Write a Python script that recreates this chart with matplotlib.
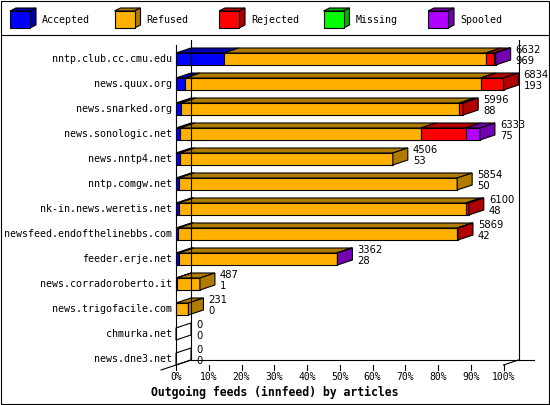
import numpy as np
import matplotlib
matplotlib.use("Agg")
import matplotlib.pyplot as plt
from matplotlib.patches import Polygon, Rectangle

# ---- data (percent of offered articles per feed)
feeds = ["nntp.club.cc.cmu.edu", "news.quux.org", "news.snarked.org",
         "news.sonologic.net", "news.nntp4.net", "nntp.comgw.net",
         "nk-in.news.weretis.net", "newsfeed.endofthelinebbs.com",
         "feeder.erje.net", "news.corradoroberto.it", "news.trigofacile.com",
         "chmurka.net", "news.dne3.net"]
offered = [6632, 6834, 5996, 6333, 4506, 5854, 6100, 5869, 3362, 487, 231, 0, 0]
accepted_n = [969, 193, 88, 75, 53, 50, 48, 42, 28, 1, 0, 0, 0]

accepted = [14.6, 2.8, 1.5, 1.2, 1.2, 0.85, 0.8, 0.7, 0.8, 0.2, 0.0, 0, 0]
refused = [80.0, 90.2, 85.0, 73.5, 65.0, 85.0, 87.7, 85.2, 48.3, 7.1, 3.8, 0, 0]
rejected = [2.6, 7.0, 1.2, 13.8, 0, 0, 0.9, 0.2, 0, 0, 0, 0, 0]
missing = [0, 0, 0, 0, 0, 0, 0, 0, 0, 0, 0, 0, 0]
spooled = [0.4, 0, 0, 4.3, 0, 0, 0, 0, 0.2, 0, 0, 0, 0]

series = ["Accepted", "Refused", "Rejected", "Missing", "Spooled"]
front_col = ["#0000ff", "#ffb000", "#ff0000", "#00ff00", "#b000ff"]
dark_col = ["#0000b0", "#b07c00", "#b00000", "#00b000", "#7400b0"]

# ---- layout (pixels of the 550x405 picture)
W, H = 550, 405
X0_PX, PX_PER_PCT = 176, 3.275
ROW0_PX, ROW_PX = 59, 25
DX = 15 / PX_PER_PCT        # depth of the 3d effect in percent units
DY = -5 / ROW_PX            # ... and in row units
HALF = 6 / ROW_PX           # half bar height
LW = 0.8

mono = "DejaVu Sans Mono"

fig = plt.figure(figsize=(W / 100, H / 100), dpi=100)
fig.patch.set_facecolor("white")

ax = fig.add_axes([0, 0, 1, 1])
ax.set_xlim(-X0_PX / PX_PER_PCT, (W - X0_PX) / PX_PER_PCT)
ax.set_ylim((H - ROW0_PX) / ROW_PX, -ROW0_PX / ROW_PX)
ax.axis("off")

n = len(feeds)
top_ax = -0.56
bot_ax = n - 1 + HALF

# back wall and floor
ax.plot([DX, DX], [top_ax + DY, bot_ax + DY], color="k", lw=LW)
ax.plot([100 + DX, 100 + DX], [top_ax + DY, bot_ax + DY], color="k", lw=LW)
ax.plot([DX, 100 + 2 * DX], [bot_ax + DY, bot_ax + DY], color="k", lw=LW)
ax.plot([-DX, DX], [bot_ax - DY, bot_ax + DY], color="k", lw=LW)
ax.plot([100, 100 + DX], [bot_ax, bot_ax + DY], color="k", lw=LW)
# front axis
ax.plot([0, 0], [top_ax, bot_ax], color="k", lw=LW)

# ticks
for t in range(0, 101, 10):
    ax.plot([t, t], [bot_ax, bot_ax + 5 / ROW_PX], color="k", lw=LW)
    ax.text(t, bot_ax + 12 / ROW_PX, f"{t}%", ha="center", va="center",
            family=mono, fontsize=7)

ax.text((W / 2 - X0_PX) / PX_PER_PCT, (392 - ROW0_PX) / ROW_PX,
        "Outgoing feeds (innfeed) by articles", ha="center", va="center",
        family=mono, fontsize=8.3, fontweight="bold")

data = np.array([accepted, refused, rejected, missing, spooled])

for i in range(n):
    y_top, y_bot = i - HALF, i + HALF
    ax.text(-4 / PX_PER_PCT, i, feeds[i], ha="right", va="center",
            family=mono, fontsize=7.2)
    vals = data[:, i]
    nz = [k for k in range(len(series)) if vals[k] > 0]
    left = 0.0
    for k in nz:
        right = left + vals[k]
        ax.add_patch(Polygon([(left, y_top), (right, y_top), (right, y_bot),
                              (left, y_bot)], closed=True,
                             facecolor=front_col[k], edgecolor="k", lw=LW))
        ax.add_patch(Polygon([(left, y_top), (right, y_top),
                              (right + DX, y_top + DY), (left + DX, y_top + DY)],
                             closed=True, facecolor=dark_col[k],
                             edgecolor="k", lw=LW))
        left = right
    if nz:
        k = nz[-1]
        ax.add_patch(Polygon([(left, y_top), (left + DX, y_top + DY),
                              (left + DX, y_bot + DY), (left, y_bot)],
                             closed=True, facecolor=dark_col[k],
                             edgecolor="k", lw=LW))
    else:
        ax.add_patch(Polygon([(0, y_top), (DX, y_top + DY),
                              (DX, y_bot + DY), (0, y_bot)],
                             closed=True, facecolor="none",
                             edgecolor="k", lw=LW))
    lx = left + DX + 5 / PX_PER_PCT
    ax.text(lx, i - 8.5 / ROW_PX, str(offered[i]), ha="left", va="center",
            fontsize=7.2)
    ax.text(lx, i + 2.5 / ROW_PX, str(accepted_n[i]), ha="left", va="center",
            fontsize=7.2)

# ---- frame and legend (pixel coordinates)
deco = fig.add_axes([0, 0, 1, 1])
deco.set_xlim(0, W)
deco.set_ylim(H, 0)
deco.axis("off")
deco.patch.set_alpha(0)
deco.add_patch(Rectangle((0.5, 0.5), 548, 403.5, fill=False, edgecolor="k", lw=LW))
deco.plot([0.5, 548.5], [35, 35], color="k", lw=LW)

for k, name in enumerate(series):
    x = 10 + 104.5 * k
    y0, y1 = 11, 28
    deco.add_patch(Polygon([(x, y0), (x + 20, y0), (x + 26, y0 - 3), (x + 6, y0 - 3)],
                           closed=True, facecolor=dark_col[k], edgecolor="k", lw=LW))
    deco.add_patch(Polygon([(x + 20, y0), (x + 26, y0 - 3), (x + 26, y1 - 3), (x + 20, y1)],
                           closed=True, facecolor=dark_col[k], edgecolor="k", lw=LW))
    deco.add_patch(Rectangle((x, y0), 20, y1 - y0, facecolor=front_col[k],
                             edgecolor="k", lw=LW))
    deco.text(x + 32, 20, name, ha="left", va="center", family=mono, fontsize=7.2)

fig.savefig("out.png", dpi=100)
